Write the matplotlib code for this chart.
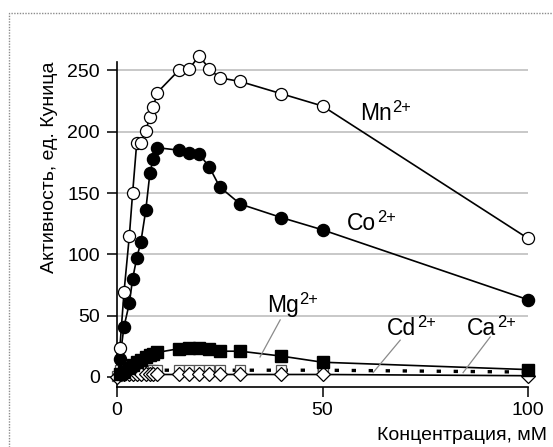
import matplotlib
matplotlib.use("Agg")
import matplotlib.pyplot as plt
from matplotlib.patches import Rectangle

plt.rcParams['font.family'] = ['Liberation Sans', 'DejaVu Sans']

# concentrations, mM
conc = [0.7, 1.7, 3.0, 3.8, 4.8, 5.8, 7.0, 8.0, 8.8, 9.8,
        15, 17.5, 20, 22.5, 25, 30, 40, 50, 100]
conc_low = [0, 0.7, 1.7, 3.0, 3.8, 4.8, 5.8, 7.0, 8.0, 8.8, 9.8,
            15, 17.5, 20, 22.5, 25, 30, 40, 50, 100]

# activity, Kunitz units
mn = [24, 69, 115, 150, 191, 191, 201, 212, 220, 232,
      250, 251, 262, 251, 244, 241, 231, 221, 113]
co = [15, 41, 60, 80, 97, 110, 136, 166, 178, 187,
      185, 183, 182, 171, 155, 141, 130, 120, 63]
mg = [2, 4, 7, 10, 12, 14, 16, 18, 19, 20,
      23, 23.5, 23.5, 23, 21, 21, 17, 12, 6]
cd = [1, 5.5, 5.5, 5.5, 5.5, 5.5, 5.5, 5.5, 5.5, 5.5, 5.5,
      5.5, 5.5, 5.5, 5.5, 5.5, 5.5, 5.5, 5.5, 4]
ca = [0, 2, 2, 2, 2, 2, 2, 2, 2, 2, 2,
      2, 2, 2, 2, 2, 2, 2, 2, 1]

xticks = [0, 50, 100]
yticks = [0, 50, 100, 150, 200, 250]

# ion labels: (element, x, baseline y)
ion_labels = [('Mn', 59.1, 209.6), ('Co', 56.0, 120), ('Mg', 36.5, 53),
              ('Cd', 65.7, 34), ('Ca', 85.2, 34)]

W, H = 553, 447
fig = plt.figure(figsize=(W / 100, H / 100), dpi=100)
ax = fig.add_axes([117 / W, 60 / H, (528 - 117) / W, (387 - 62) / H])
ax.set_xlim(0, 100)
ax.set_ylim(-8.2, 256.9)

for g in yticks[1:]:
    ax.axhline(g, color='#c4c4c4', lw=1.3, zorder=0)

common = dict(clip_on=False, lw=1.2, color='black')
ax.plot(conc_low, cd, ls=(0, (1.3, 3.8)), lw=2.4, color='black',
        marker='s', ms=7.8, mfc='white', mec='#555555', mew=0.9,
        clip_on=False, zorder=3)
ax.plot(conc_low, ca, marker='D', ms=7, mfc='white', mec='black', mew=0.9,
        zorder=4, **common)
ax.plot(conc, mg, marker='s', ms=8.5, mfc='black', mec='black',
        zorder=5, **common)
ax.plot(conc, co, marker='o', ms=8.7, mfc='black', mec='black',
        zorder=6, **common)
ax.plot(conc, mn, marker='o', ms=8.7, mfc='white', mec='black', mew=0.9,
        zorder=7, **common)

ax.spines['top'].set_visible(False)
ax.spines['right'].set_visible(False)
for s in ('left', 'bottom'):
    ax.spines[s].set_linewidth(1.2)

ax.set_xticks(xticks)
ax.set_yticks(yticks)
ax.tick_params(axis='both', direction='out', length=7.2, width=1.1,
               labelsize=14)
ax.tick_params(axis='y', pad=5)
ax.tick_params(axis='x', pad=3.5)

# element symbol with a "2+" superscript placed right after it
fs = 16.5
renderer = fig.canvas.get_renderer()
for name, x, y in ion_labels:
    t = ax.text(x, y, name, fontsize=fs, ha='left', va='baseline')
    bb = t.get_window_extent(renderer=renderer)
    px, py = ax.transData.transform((x, y))
    sx, sy = ax.transData.inverted().transform((bb.x1 + 0.5, py + 8))
    ax.text(sx, sy, '2+', fontsize=fs * 0.72, ha='left', va='baseline')

lead = dict(color='#8a8a8a', lw=0.9, clip_on=False, zorder=8)
ax.plot([39.7, 34.8], [46.5, 16.3], **lead)
ax.plot([68.9, 62.3], [30, 3.5], **lead)
ax.plot([90.8, 84.2], [32.6, 3.5], **lead)

fig.text(50 / W, 1 - 167 / H, 'Активность, ед. Куница', rotation=90,
         fontsize=14, ha='center', va='center')
fig.text(547 / W, 1 - 435 / H, 'Концентрация, мМ', fontsize=14,
         ha='right', va='center')

fig.add_artist(Rectangle((9 / W, -0.1), 2, 1.1 - 13 / H,
                         transform=fig.transFigure, fill=False,
                         ls=(0, (1, 1)), ec='#8c8c8c', lw=1))

fig.savefig('out.png', dpi=100)
